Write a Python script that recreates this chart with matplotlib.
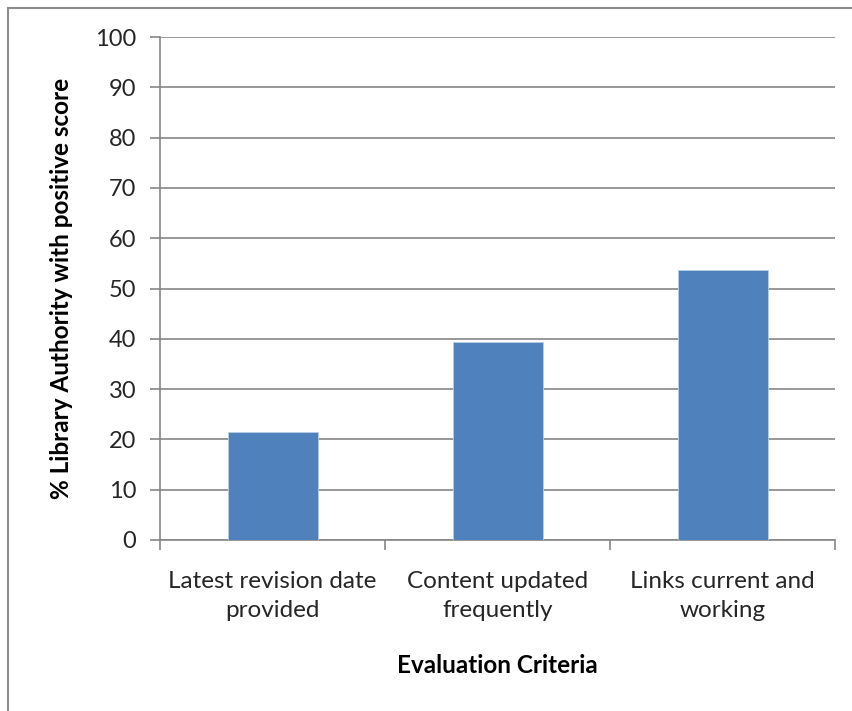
import matplotlib.pyplot as plt
from matplotlib.patches import Rectangle

# === Data ===
categories = ["Latest revision date\nprovided", "Content updated\nfrequently", "Links current and\nworking"]
values = [21.4, 39.3, 53.6]

plt.rcParams['font.family'] = ['Lato', 'DejaVu Sans']

fig = plt.figure(figsize=(8.52, 7.11), dpi=100)
ax = fig.add_axes([160 / 852, 1 - 540 / 711, 675 / 852, 503 / 711])

# outer chart border (only top/left visible in the reference)
fig.patches.append(Rectangle((8 / 852, -0.05), 1.2, 1 - 8 / 711 + 0.05,
                             transform=fig.transFigure, fill=False,
                             edgecolor="#8c8c8c", linewidth=1.5))

gray = "#868686"
x = range(len(categories))
ax.bar(x, values, width=0.4, color="#4f81bd", edgecolor="#b9cde5", linewidth=0.6, zorder=3)

ax.set_xlim(-0.5, 2.5)
ax.set_ylim(0, 100)
ax.set_yticks(range(0, 101, 10))
ax.yaxis.grid(True, color=gray, linewidth=1.2, zorder=0)

ax.set_xticks([-0.5, 0.5, 1.5, 2.5])
ax.set_xticklabels([])
ax.set_xticks(list(x), minor=True)
ax.set_xticklabels(categories, minor=True, fontsize=17.5, color="#262626", linespacing=1.5)
ax.tick_params(axis="x", which="minor", length=0, pad=22)
ax.tick_params(axis="x", which="major", length=7, width=1.2, color=gray)
ax.tick_params(axis="y", length=7, width=1.2, color=gray, labelsize=17,
               labelcolor="#262626", pad=10)

for s in ["top", "right"]:
    ax.spines[s].set_visible(False)
for s in ["left", "bottom"]:
    ax.spines[s].set_color(gray)
    ax.spines[s].set_linewidth(1.2)

ax.set_ylabel("% Library Authority with positive score", fontsize=17.5, fontweight="bold", labelpad=16)
ax.set_xlabel("Evaluation Criteria", fontsize=17.5, fontweight="bold", labelpad=24)

plt.savefig("out.png")
plt.close()
